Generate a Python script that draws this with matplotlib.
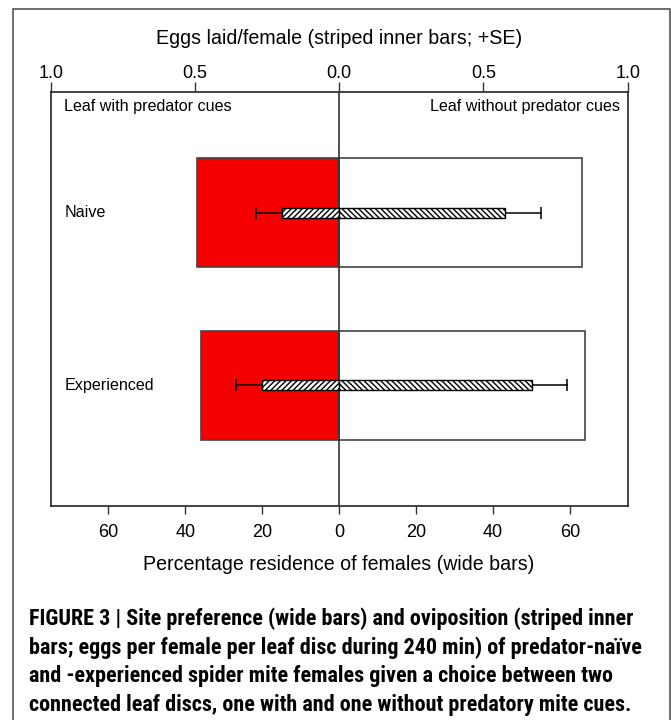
import matplotlib
matplotlib.use('Agg')
import matplotlib.pyplot as plt
from matplotlib import font_manager as fm
from matplotlib.patches import Rectangle

plt.rcParams['font.family'] = ['Liberation Sans', 'DejaVu Sans']
plt.rcParams['hatch.linewidth'] = 1.0

# Data
groups = ['Naive', 'Experienced']
res_with = [37, 36]        # % residence on leaf with predator cues
res_without = [63, 64]     # % residence on leaf without predator cues
eggs_with = [0.20, 0.268]  # eggs/female on leaf with cues
eggs_without = [0.573, 0.668]
se_with = [0.089, 0.091]
se_without = [0.125, 0.121]

caption = [
    "FIGURE 3 | Site preference (wide bars) and oviposition (striped inner",
    "bars; eggs per female per leaf disc during 240 min) of predator-naïve",
    "and -experienced spider mite females given a choice between two",
    "connected leaf discs, one with and one without predatory mite cues.",
]

# pick a narrow font for the caption if there is one
installed = {f.name for f in fm.fontManager.ttflist}
cap_family = 'Liberation Sans'
for cand in ['Liberation Sans Narrow', 'Roboto Condensed',
             'DejaVu Sans Condensed', 'Open Sans Condensed',
             'Noto Sans Condensed']:
    if cand in installed:
        cap_family = cand
        break

W, H = 671, 720
fig = plt.figure(figsize=(W / 100, H / 100), dpi=100)
ax = fig.add_axes([50.7 / W, 1 - 506 / H, 577 / W, 414 / H])

ypos = [1, 2]
ax.barh(ypos, [-v for v in res_with], height=0.633, color='#f40000',
        edgecolor='#444444', linewidth=1.2, zorder=2)
ax.barh(ypos, res_without, height=0.633, color='white',
        edgecolor='#444444', linewidth=1.2, zorder=2)
ax.axvline(0, color='#333333', lw=1.2, zorder=3)

ax.set_xlim(-75, 75)
ax.set_ylim(2.7, 0.3)
ax.set_yticks([])
ax.set_xticks([-60, -40, -20, 0, 20, 40, 60])
ax.set_xticklabels(['60', '40', '20', '0', '20', '40', '60'])
ax.tick_params(axis='x', direction='out', length=6, width=1, labelsize=13,
               pad=7, color='#333333')
for s in ax.spines.values():
    s.set_color('#222222')
    s.set_linewidth(1.2)

# eggs axis on top
ax2 = ax.twiny()
ax2.set_xlim(-1, 1)
ax2.set_ylim(2.7, 0.3)
ax2.set_xticks([-1, -0.5, 0, 0.5, 1])
ax2.set_xticklabels(['1.0', '0.5', '0.0', '0.5', '1.0'])
ax2.tick_params(axis='x', direction='out', length=7, width=1, labelsize=13,
                pad=0, color='#333333')
for s in ax2.spines.values():
    s.set_visible(False)

ax2.barh(ypos, [-v for v in eggs_with], height=0.056, color='white',
         edgecolor='black', hatch='//////', linewidth=1.0, zorder=4)
ax2.barh(ypos, eggs_without, height=0.056, color='white',
         edgecolor='black', hatch='\\\\\\\\\\\\', linewidth=1.0, zorder=4)

for i, y in enumerate(ypos):
    lo = -eggs_with[i] - se_with[i]
    hi = eggs_without[i] + se_without[i]
    ax2.plot([lo, -eggs_with[i]], [y, y], color='black', lw=1.1, zorder=3)
    ax2.plot([eggs_without[i], hi], [y, y], color='black', lw=1.1, zorder=3)
    ax2.plot([lo, hi], [y, y], ls='none', marker='|', markersize=9,
             mew=1.1, color='black', zorder=3)

for g, y in zip(groups, ypos):
    ax.text(-71.4, y, g, ha='left', va='center', fontsize=11.6, zorder=5)
ax.text(0.023, 0.964, 'Leaf with predator cues', transform=ax.transAxes,
        ha='left', va='center', fontsize=11.6)
ax.text(0.987, 0.964, 'Leaf without predator cues', transform=ax.transAxes,
        ha='right', va='center', fontsize=11.6)

fig.text(339 / W, 1 - 38 / H, 'Eggs laid/female (striped inner bars; +SE)',
         ha='center', va='center', fontsize=14.1)
fig.text(339 / W, 1 - 565 / H, 'Percentage residence of females (wide bars)',
         ha='center', va='center', fontsize=14.1)

cap_texts = []
for k, line in enumerate(caption):
    t = fig.text(29 / W, 1 - (619 + 28.5 * k) / H, line, ha='left',
                 va='center', fontsize=16, fontweight='bold',
                 family=[cap_family, 'DejaVu Sans'])
    cap_texts.append(t)

# size the caption so its first line spans about 603 px like the original
renderer = fig.canvas.get_renderer()
w0 = cap_texts[0].get_window_extent(renderer).width
size = min(16.8, 16 * 603 / w0)
for t in cap_texts:
    t.set_fontsize(size)

fig.add_artist(Rectangle((12.5 / W, -0.02), (670 - 12.5) / W, 1.02 - 8.5 / H,
                         transform=fig.transFigure, fill=False,
                         edgecolor='#555555', linewidth=1.2))

fig.savefig('out.png', dpi=100)
